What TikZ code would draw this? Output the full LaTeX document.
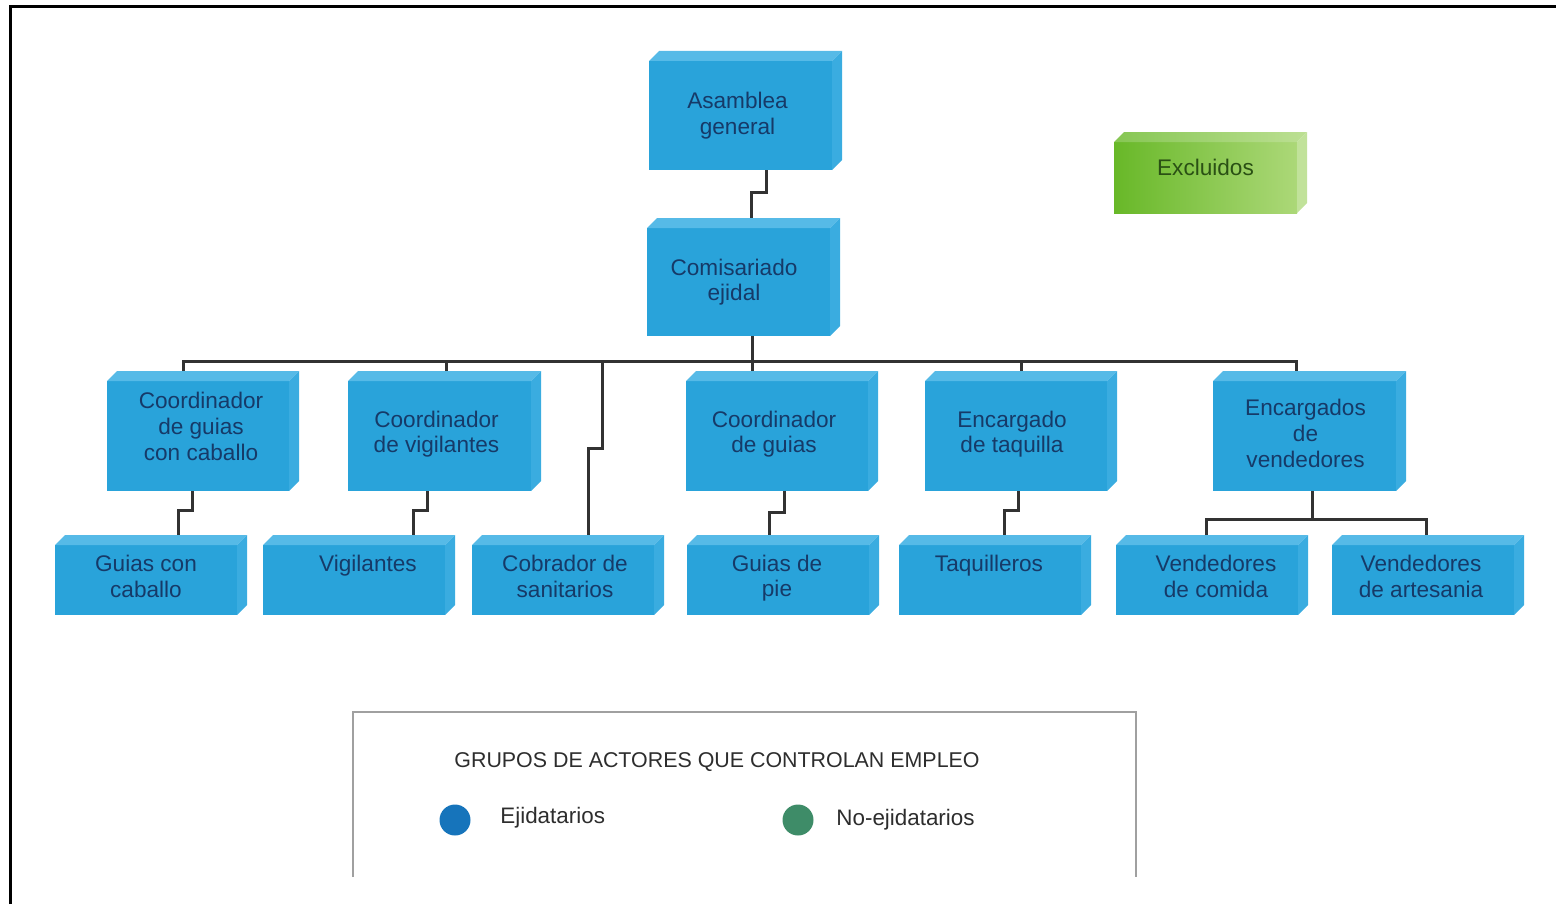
\documentclass[tikz,border=0pt]{standalone}
\usepackage{fontspec}
\setmainfont{Liberation Sans}
\usetikzlibrary{calc}

\definecolor{cubefront}{RGB}{41,163,218}
\definecolor{cubetop}{RGB}{86,186,231}
\definecolor{cubeside}{RGB}{58,172,224}
\definecolor{cubetext}{RGB}{22,58,104}
\definecolor{greenL}{RGB}{104,184,40}
\definecolor{greenR}{RGB}{172,216,120}
\definecolor{greentext}{RGB}{42,80,20}
\definecolor{wirecol}{RGB}{50,50,50}
\definecolor{legendblue}{RGB}{22,116,187}
\definecolor{legendgreen}{RGB}{62,140,104}
\definecolor{legendtext}{RGB}{45,45,45}
\definecolor{legendframe}{RGB}{160,160,160}

\tikzset{
  boxlabel/.style={font=\fontsize{11.3}{12.8}\selectfont, align=center,
    inner sep=0pt, outer sep=0pt},
  bluebox/.style={inner sep=0pt, outer sep=0pt, fill=cubefront},
  bluebox top/.style={fill=cubetop},
  bluebox side/.style={fill=cubeside},
  bluebox text/.style={boxlabel, text=cubetext},
  greenbox/.style={inner sep=0pt, outer sep=0pt, left color=greenL, right color=greenR},
  greenbox top/.style={left color=greenL!80!white, right color=greenR!80!white},
  greenbox side/.style={fill=greenR!75!white},
  greenbox text/.style={boxlabel, text=greentext},
  wire/.style={draw=wirecol, line width=1.5pt},
  frameline/.style={draw=black, line width=1.5pt},
  legendbox/.style={draw=legendframe, line width=1pt},
  legendtitle/.style={font=\fontsize{10.7}{12}\selectfont, text=legendtext, inner sep=0pt},
  legendlabel/.style={font=\fontsize{11.2}{13}\selectfont, text=legendtext, inner sep=0pt},
  dot/.style={circle, minimum size=15.5pt, inner sep=0pt, draw=none},
}

% A bevelled block: front face node #2, its label node #2-t.
% #1 style, #2 name, #3/#4 top-left corner, #5/#6 bottom-right corner,
% #7/#8 label offset from the face centre, #9 text
\newcommand\cubebox[9]{%
  \node[#1, minimum width={(#5-#3-10)*0.5pt}, minimum height={(#6-#4-10)*0.5pt},
        anchor=north west] (#2) at (#3,#4+10) {};
  \path[#1 top] (#2.north west) -- ++(10,-10) -- ($(#2.north east)+(10,-10)$)
        -- (#2.north east) -- cycle;
  \path[#1 side] (#2.north east) -- ++(10,-10) -- ($(#2.south east)+(10,-10)$)
        -- (#2.south east) -- cycle;
  \node[#1 text] (#2-t) at ($(#2.center)+(#7,#8)$) {#9};
}

\begin{document}
\begin{tikzpicture}[x=0.5pt, y=-0.5pt]
\useasboundingbox (0,0) rectangle (1556,904);

% outer frame (top and left edges)
\draw[frameline] (10,904) |- (1556,7);

% top of the hierarchy
\cubebox{bluebox}{asam}{649}{51}{842}{170}{-3}{0}{Asamblea\\general}
\cubebox{bluebox}{comi}{647}{218}{840}{336}{-4.5}{0}{Comisariado\\ejidal}
\cubebox{greenbox}{excl}{1114}{132}{1307}{213}{0}{-10}{Excluidos}

% coordinators
\cubebox{bluebox}{ccab}{107}{371}{299}{491}{3}{-9.5}{Coordinador\\de guias\\con caballo}
\cubebox{bluebox}{cvig}{348}{371}{541}{491}{-3}{-2}{Coordinador\\de vigilantes}
\cubebox{bluebox}{cguia}{686}{371}{878}{491}{-3}{-2}{Coordinador\\de guias}
\cubebox{bluebox}{ctaq}{925}{371}{1117}{491}{-4}{-2}{Encargado\\de taquilla}
\cubebox{bluebox}{cven}{1213}{371}{1406}{491}{1}{-2.5}{Encargados\\de\\vendedores}

% workers
\cubebox{bluebox}{gcab}{55}{535}{247}{615}{0}{-3.5}{Guias con\\caballo}
\cubebox{bluebox}{vig}{263}{535}{455}{615}{14}{-3.5}{Vigilantes\\\mbox{}}
\cubebox{bluebox}{cobr}{472}{535}{664}{615}{2}{-3.5}{Cobrador de\\sanitarios}
\cubebox{bluebox}{gpie}{687}{535}{879}{615}{-1}{-2}{Guias de\\pie}
\cubebox{bluebox}{taq}{899}{535}{1091}{615}{-1}{-3.5}{Taquilleros\\\mbox{}}
\cubebox{bluebox}{vcom}{1116}{535}{1308}{615}{9}{-3.5}{Vendedores\\de comida}
\cubebox{bluebox}{vart}{1332}{535}{1524}{615}{-2}{-3.5}{Vendedores\\de artesania}

% connectors
\draw[wire] ($(asam.south)+(25.5,0)$) -- ++(0,22) -| ($(comi.north)+(12.5,-10)$);
\coordinate (bus) at ($(comi.south)+(0,25)$);
\draw[wire] ($(ccab.north)+(-15,-10)$) |- (bus) -| ($(cven.north)+(-8.5,-10)$);
\draw[wire] ($(comi.south)+(13.5,0)$) -- ($(cguia.north)+(-25,-10)$);
\draw[wire] ($(cvig.north)+(6.5,-10)$) -- ++(0,-10);
\draw[wire] ($(ctaq.north)+(5,-10)$) -- ++(0,-10);
\coordinate (cobrtop) at ($(cobr.north)+(25,-10)$);
\coordinate (cobrdrop) at ($(cobr.north)+(39,-10)$);
\draw[wire] (cobrdrop |- bus) -- ++(0,87) -| (cobrtop);

\draw[wire] ($(ccab.south)+(-6,0)$) -- ++(0,19) -| ($(gcab.north)+(32,-10)$);
\draw[wire] ($(cvig.south)+(-12.5,0)$) -- ++(0,19) -| ($(vig.north)+(59,-10)$);
\draw[wire] ($(cguia.south)+(7,0)$) -- ++(0,21) -| ($(gpie.north)+(-9,-10)$);
\draw[wire] ($(ctaq.south)+(2,0)$) -- ++(0,19) -| ($(taq.north)+(14,-10)$);
\draw[wire] ($(cven.south)+(7.5,0)$) -- ++(0,28);
\draw[wire] ($(vcom.north)+(-1,-10)$) -- ++(0,-16) -| ($(vart.north)+(3,-10)$);

% legend
\draw[legendbox] (353,877) |- (1136,712) -- (1136,877);
\node[legendtitle] (ltitle) at (717,762) {GRUPOS DE ACTORES QUE CONTROLAN EMPLEO};
\node[dot, fill=legendblue] (dotE) at (455,820) {};
\node[legendlabel, anchor=west] (labE) at (500,818) {Ejidatarios};
\node[dot, fill=legendgreen] (dotN) at (798,820) {};
\node[legendlabel, anchor=west] (labN) at (836,820) {No-ejidatarios};
\end{tikzpicture}
\end{document}
